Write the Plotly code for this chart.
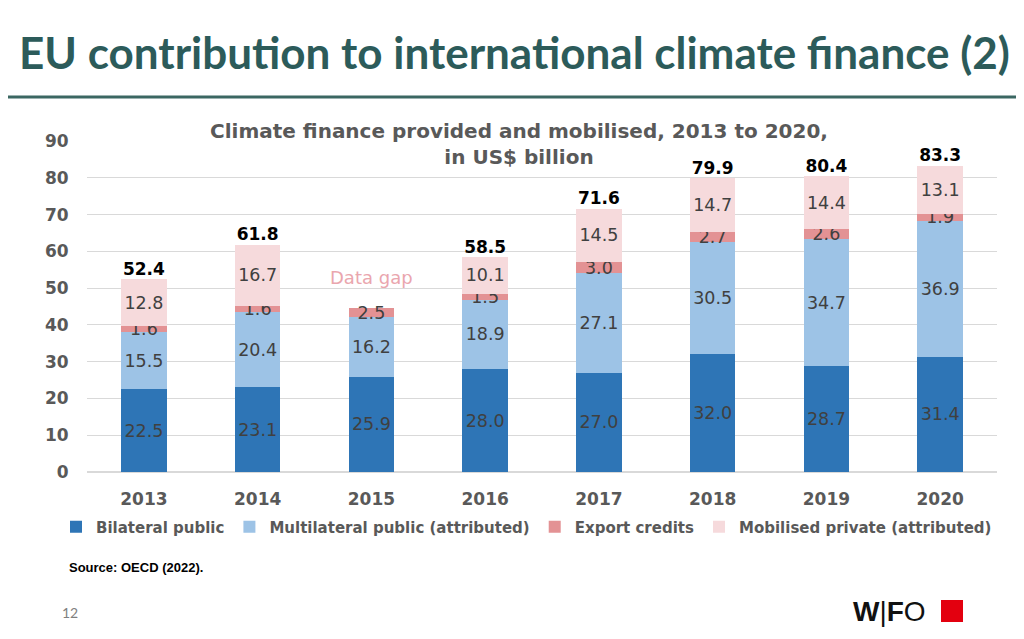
import plotly.graph_objects as go

years = [2013, 2014, 2015, 2016, 2017, 2018, 2019, 2020]
bilateral = [22.5, 23.1, 25.9, 28.0, 27.0, 32.0, 28.7, 31.4]
multilateral = [15.5, 20.4, 16.2, 18.9, 27.1, 30.5, 34.7, 36.9]
export_credits = [1.6, 1.6, 2.5, 1.5, 3.0, 2.7, 2.6, 1.9]
private = [12.8, 16.7, None, 10.1, 14.5, 14.7, 14.4, 13.1]
totals = [52.4, 61.8, None, 58.5, 71.6, 79.9, 80.4, 83.3]
y_ticks = [0, 10, 20, 30, 40, 50, 60, 70, 80, 90]

series = [
    ("Bilateral public", bilateral, "#2e75b6"),
    ("Multilateral public (attributed)", multilateral, "#9dc3e6"),
    ("Export credits", export_credits, "#e39294"),
    ("Mobilised private (attributed)", private, "#f6dadc"),
]

FONT = "DejaVu Sans"
GRAY = "#595959"
OFF = 8  # page body offset of the plot div

# screen-pixel plot area
PX0, PX1, PY0, PY1 = 87, 997, 141, 472
PW, PH = PX1 - PX0, PY1 - PY0


def px(x):
    return (x - PX0) / PW


def py(y):
    return (PY1 - y) / PH


fig = go.Figure()
for name, vals, col in series:
    fig.add_trace(go.Bar(
        x=years, y=vals, name=name, width=0.4,
        marker=dict(color=col, line=dict(width=0)),
        text=[("" if v is None else f"{v:.1f}") for v in vals],
        textposition="inside", insidetextanchor="middle",
        textfont=dict(family=FONT, size=17.5, color="#404040"),
        hoverinfo="skip",
    ))

fig.add_trace(go.Scatter(
    x=years, y=totals, mode="text",
    text=[("" if v is None else f"<b>{v:.1f}</b>") for v in totals],
    textposition="top center",
    textfont=dict(family=FONT, size=17, color="#000000"),
    showlegend=False, hoverinfo="skip", cliponaxis=False,
))

fig.update_layout(
    width=1024, height=639,
    barmode="stack",
    plot_bgcolor="white", paper_bgcolor="white",
    margin=dict(l=PX0 - OFF, r=1024 - PX1 + OFF, t=PY0 - OFF, b=639 - PY1 + OFF),
    uniformtext=dict(minsize=17.5, mode="show"),
    font=dict(family=FONT, color=GRAY),
    xaxis=dict(type="linear", range=[2012.5, 2020.5], tickvals=years,
               showgrid=False, showline=False, zeroline=False,
               ticks="outside", ticklen=12, tickcolor="rgba(0,0,0,0)",
               tickfont=dict(family=FONT, size=17, color=GRAY, weight="bold")),
    yaxis=dict(range=[0, 90], tickvals=y_ticks, showgrid=True, gridcolor="#d9d9d9",
               gridwidth=1, zeroline=True, zerolinecolor="#d9d9d9",
               showline=False,
               ticks="outside", ticklen=14, tickcolor="rgba(0,0,0,0)",
               tickfont=dict(family=FONT, size=17, color=GRAY, weight="bold")),
    legend=dict(orientation="h", x=px(56), xanchor="left",
                y=py(527), yanchor="middle",
                font=dict(family=FONT, size=15, color=GRAY, weight="bold"),
                traceorder="normal", itemwidth=30),
    showlegend=True,
)

fig.add_annotation(
    text="<b>Climate finance provided and mobilised, 2013 to 2020,<br>in US$ billion</b>",
    xref="paper", yref="paper", x=px(519), y=py(144),
    xanchor="center", yanchor="middle", showarrow=False,
    font=dict(family=FONT, size=20, color=GRAY), align="center",
)
fig.add_annotation(
    text="Data gap", x=2015, y=53, xref="x", yref="y",
    showarrow=False, font=dict(family=FONT, size=18, color="#eaa6ae"),
)
# slide title
fig.add_annotation(
    text="<b>EU contribution to international climate finance (2)</b>",
    xref="paper", yref="paper", x=px(514), y=py(52),
    xanchor="center", yanchor="middle", showarrow=False,
    font=dict(family="Lato", size=44, color="#2c5b5a"),
)
fig.add_shape(type="line", xref="paper", yref="paper",
              x0=px(0), x1=px(1024), y0=py(97), y1=py(97),
              line=dict(color="#3b6762", width=3))
fig.add_annotation(
    text="<b>Source: OECD (2022).</b>",
    xref="paper", yref="paper", x=px(67), y=py(567),
    xanchor="left", yanchor="middle", showarrow=False,
    font=dict(family="Liberation Sans", size=13, color="#000000"),
)
fig.add_annotation(
    text="12",
    xref="paper", yref="paper", x=px(60), y=py(612),
    xanchor="left", yanchor="middle", showarrow=False,
    font=dict(family="Lato", size=14, color="#7f7f7f"),
)
fig.add_annotation(
    text="<b>W</b>|<b>F</b>O",
    xref="paper", yref="paper", x=px(851), y=py(611),
    xanchor="left", yanchor="middle", showarrow=False,
    font=dict(family="Liberation Sans", size=28, color="#111111"),
)
fig.add_shape(type="rect", xref="paper", yref="paper",
              x0=px(941), x1=px(963), y0=py(600), y1=py(622),
              fillcolor="#e3000f", line=dict(width=0))

fig.write_html("out.html")
